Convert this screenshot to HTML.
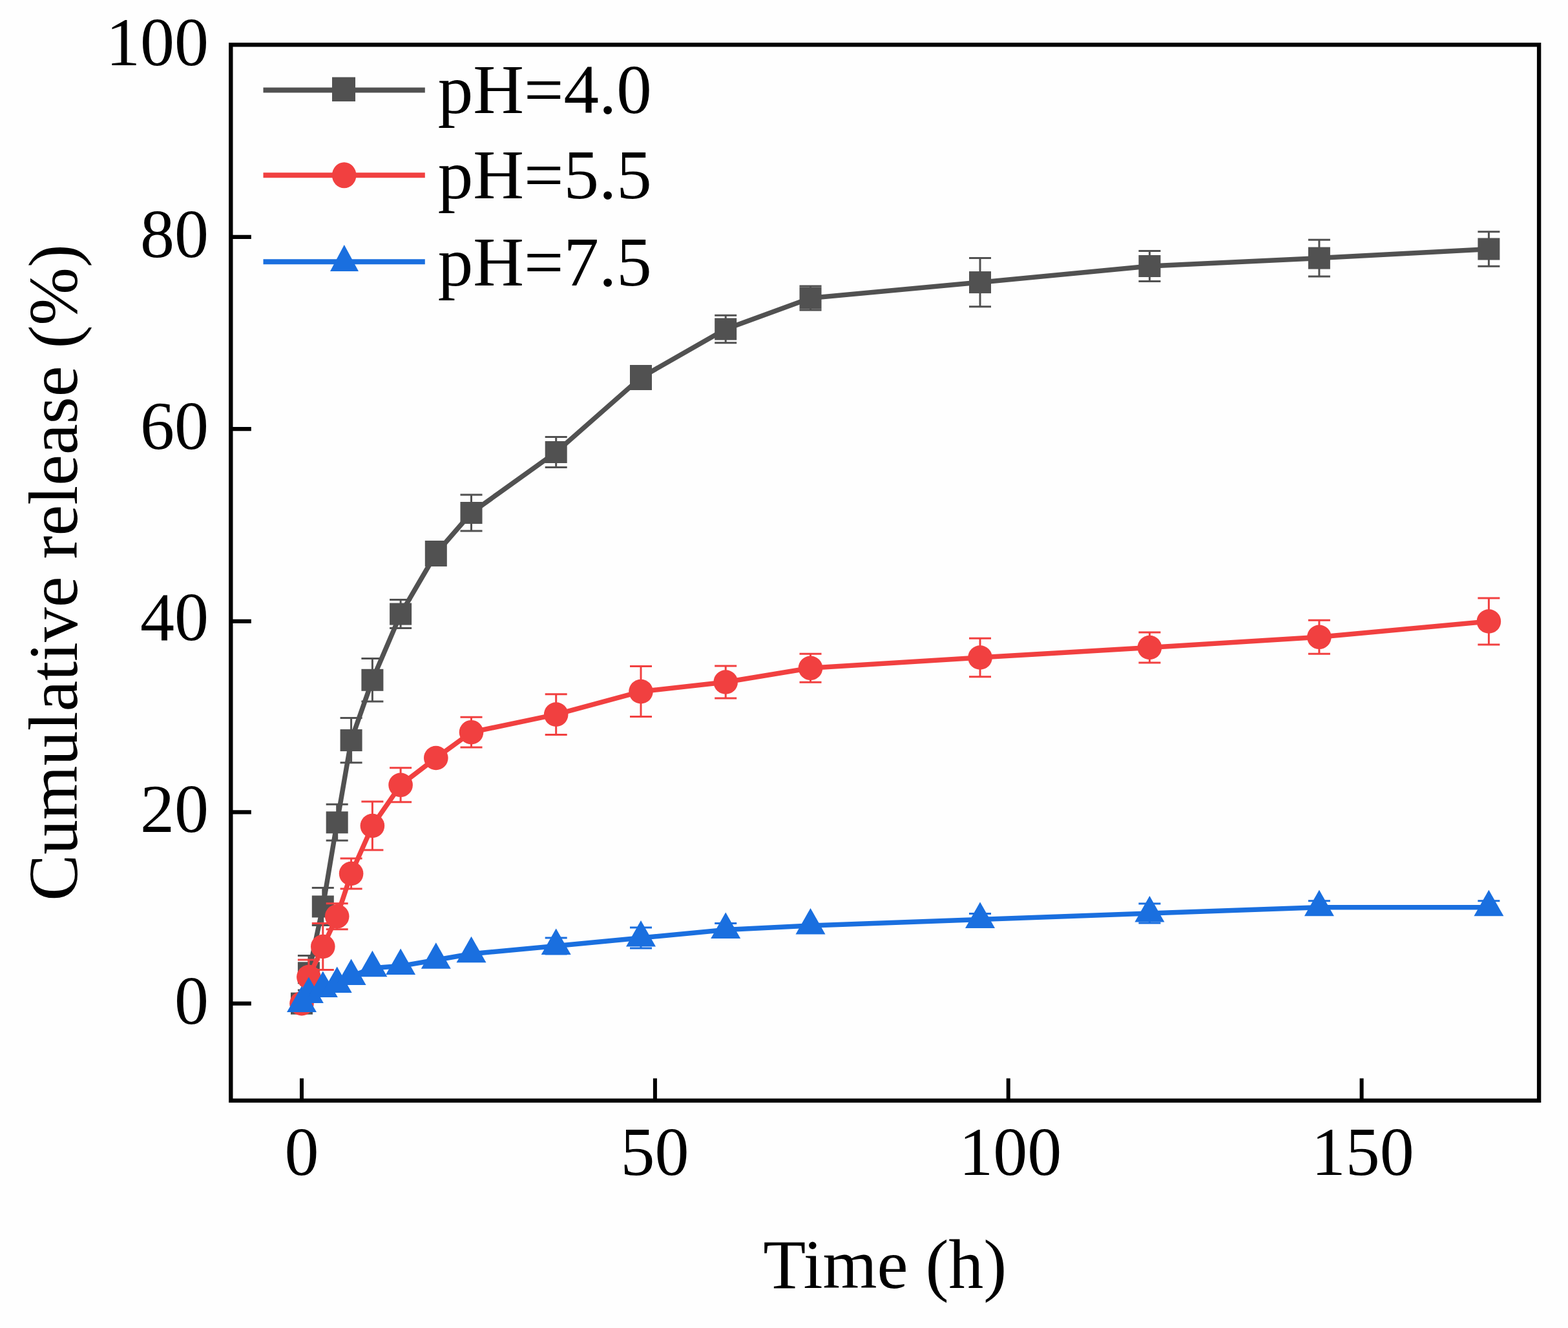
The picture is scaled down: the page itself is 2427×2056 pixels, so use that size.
<!DOCTYPE html>
<html><head><meta charset="utf-8"><title>Cumulative release</title>
<style>html,body{margin:0;padding:0;background:#fefefe;overflow:hidden;}svg{display:block;}</style>
</head><body>
<svg width="2427" height="2056" viewBox="0 0 2427 2056">
<rect width="2427" height="2056" fill="#fefefe"/>
<rect x="357.3" y="69.3" width="2024.8" height="1634.6" fill="none" stroke="#000" stroke-width="6.4"/>
<path d="M357.3,1553.6H388.8M357.3,1257.4H388.8M357.3,961.8H388.8M357.3,664.1H388.8M357.3,366.9H388.8" stroke="#000" stroke-width="6.2" fill="none"/>
<path d="M467.0,1703.9V1669.4M1013.9,1703.9V1669.4M1560.7,1703.9V1669.4M2107.6,1703.9V1669.4" stroke="#000" stroke-width="6" fill="none"/>
<polyline points="467.0,1553.6 477.9,1506.3 499.8,1403.5 521.7,1273.3 543.6,1146.1 576.4,1052.8 620.1,950.6 674.8,857.0 729.5,794.0 860.7,700.0 992.0,584.5 1123.2,509.5 1254.5,461.5 1517.0,437.1 1779.4,412.0 2041.9,399.6 2304.4,385.5" fill="none" stroke="#515151" stroke-width="7.5" stroke-linejoin="round"/>
<path d="M477.9,1479.5V1533.1M460.9,1479.5h34M460.9,1533.1h34M499.8,1374.5V1432.5M482.8,1374.5h34M482.8,1432.5h34M521.7,1245.3V1301.3M504.7,1245.3h34M504.7,1301.3h34M543.6,1111.5V1180.7M526.6,1111.5h34M526.6,1180.7h34M576.4,1019.6V1086.0M559.4,1019.6h34M559.4,1086.0h34M620.1,928.6V972.6M603.1,928.6h34M603.1,972.6h34M674.8,838.5V875.5M657.8,838.5h34M657.8,875.5h34M729.5,766.0V822.0M712.5,766.0h34M712.5,822.0h34M860.7,676.4V723.6M843.7,676.4h34M843.7,723.6h34M992.0,566.5V602.5M975.0,566.5h34M975.0,602.5h34M1123.2,488.2V530.8M1106.2,488.2h34M1106.2,530.8h34M1254.5,443.0V480.0M1237.5,443.0h34M1237.5,480.0h34M1517.0,399.5V474.7M1500.0,399.5h34M1500.0,474.7h34M1779.4,388.4V435.6M1762.4,388.4h34M1762.4,435.6h34M2041.9,371.3V427.9M2024.9,371.3h34M2024.9,427.9h34M2304.4,358.8V412.2M2287.4,358.8h34M2287.4,412.2h34" fill="none" stroke="#515151" stroke-width="3"/>
<rect x="450.0" y="1536.6" width="34" height="34" fill="#515151"/>
<rect x="460.9" y="1489.3" width="34" height="34" fill="#515151"/>
<rect x="482.8" y="1386.5" width="34" height="34" fill="#515151"/>
<rect x="504.7" y="1256.3" width="34" height="34" fill="#515151"/>
<rect x="526.6" y="1129.1" width="34" height="34" fill="#515151"/>
<rect x="559.4" y="1035.8" width="34" height="34" fill="#515151"/>
<rect x="603.1" y="933.6" width="34" height="34" fill="#515151"/>
<rect x="657.8" y="840.0" width="34" height="34" fill="#515151"/>
<rect x="712.5" y="777.0" width="34" height="34" fill="#515151"/>
<rect x="843.7" y="683.0" width="34" height="34" fill="#515151"/>
<rect x="975.0" y="567.5" width="34" height="34" fill="#515151"/>
<rect x="1106.2" y="492.5" width="34" height="34" fill="#515151"/>
<rect x="1237.5" y="444.5" width="34" height="34" fill="#515151"/>
<rect x="1500.0" y="420.1" width="34" height="34" fill="#515151"/>
<rect x="1762.4" y="395.0" width="34" height="34" fill="#515151"/>
<rect x="2024.9" y="382.6" width="34" height="34" fill="#515151"/>
<rect x="2287.4" y="368.5" width="34" height="34" fill="#515151"/>
<polyline points="467.0,1553.6 477.9,1512.6 499.8,1465.5 521.7,1418.8 543.6,1352.5 576.4,1278.5 620.1,1215.3 674.8,1173.5 729.5,1133.7 860.7,1106.1 992.0,1070.6 1123.2,1056.0 1254.5,1034.3 1517.0,1018.0 1779.4,1002.5 2041.9,986.3 2304.4,962.0" fill="none" stroke="#F14040" stroke-width="7.5" stroke-linejoin="round"/>
<path d="M477.9,1486.1V1539.1M460.9,1486.1h34M460.9,1539.1h34M499.8,1429.5V1501.5M482.8,1429.5h34M482.8,1501.5h34M521.7,1398.8V1438.8M504.7,1398.8h34M504.7,1438.8h34M543.6,1328.9V1376.1M526.6,1328.9h34M526.6,1376.1h34M576.4,1240.9V1316.1M559.4,1240.9h34M559.4,1316.1h34M620.1,1188.8V1241.8M603.1,1188.8h34M603.1,1241.8h34M729.5,1110.3V1157.1M712.5,1110.3h34M712.5,1157.1h34M860.7,1074.8V1137.4M843.7,1074.8h34M843.7,1137.4h34M992.0,1031.6V1109.6M975.0,1031.6h34M975.0,1109.6h34M1123.2,1031.0V1081.0M1106.2,1031.0h34M1106.2,1081.0h34M1254.5,1012.3V1056.3M1237.5,1012.3h34M1237.5,1056.3h34M1517.0,988.3V1047.7M1500.0,988.3h34M1500.0,1047.7h34M1779.4,979.0V1026.0M1762.4,979.0h34M1762.4,1026.0h34M2041.9,960.3V1012.3M2024.9,960.3h34M2024.9,1012.3h34M2304.4,926.0V998.0M2287.4,926.0h34M2287.4,998.0h34" fill="none" stroke="#F14040" stroke-width="3"/>
<circle cx="467.0" cy="1553.6" r="18.8" fill="#F14040"/>
<circle cx="477.9" cy="1512.6" r="18.8" fill="#F14040"/>
<circle cx="499.8" cy="1465.5" r="18.8" fill="#F14040"/>
<circle cx="521.7" cy="1418.8" r="18.8" fill="#F14040"/>
<circle cx="543.6" cy="1352.5" r="18.8" fill="#F14040"/>
<circle cx="576.4" cy="1278.5" r="18.8" fill="#F14040"/>
<circle cx="620.1" cy="1215.3" r="18.8" fill="#F14040"/>
<circle cx="674.8" cy="1173.5" r="18.8" fill="#F14040"/>
<circle cx="729.5" cy="1133.7" r="18.8" fill="#F14040"/>
<circle cx="860.7" cy="1106.1" r="18.8" fill="#F14040"/>
<circle cx="992.0" cy="1070.6" r="18.8" fill="#F14040"/>
<circle cx="1123.2" cy="1056.0" r="18.8" fill="#F14040"/>
<circle cx="1254.5" cy="1034.3" r="18.8" fill="#F14040"/>
<circle cx="1517.0" cy="1018.0" r="18.8" fill="#F14040"/>
<circle cx="1779.4" cy="1002.5" r="18.8" fill="#F14040"/>
<circle cx="2041.9" cy="986.3" r="18.8" fill="#F14040"/>
<circle cx="2304.4" cy="962.0" r="18.8" fill="#F14040"/>
<polyline points="467.0,1553.6 477.9,1539.4 499.8,1530.4 521.7,1523.5 543.6,1511.4 576.4,1498.7 620.1,1495.6 674.8,1486.2 729.5,1476.7 860.7,1464.5 992.0,1451.9 1123.2,1439.6 1254.5,1433.0 1517.0,1423.4 1779.4,1414.1 2041.9,1404.8 2304.4,1404.8" fill="none" stroke="#1A6FDF" stroke-width="7.5" stroke-linejoin="round"/>
<path d="M860.7,1451.9V1477.1M843.7,1451.9h34M843.7,1477.1h34M992.0,1435.9V1467.9M975.0,1435.9h34M975.0,1467.9h34M1123.2,1429.6V1449.6M1106.2,1429.6h34M1106.2,1449.6h34M1517.0,1414.4V1432.4M1500.0,1414.4h34M1500.0,1432.4h34M1779.4,1399.1V1429.1M1762.4,1399.1h34M1762.4,1429.1h34M2041.9,1394.8V1414.8M2024.9,1394.8h34M2024.9,1414.8h34M2304.4,1394.8V1414.8M2287.4,1394.8h34M2287.4,1414.8h34" fill="none" stroke="#1A6FDF" stroke-width="3"/>
<path d="M467.0,1526.6L490.0,1567.1H444.0Z" fill="#1A6FDF"/>
<path d="M477.9,1512.4L500.9,1552.9H454.9Z" fill="#1A6FDF"/>
<path d="M499.8,1503.4L522.8,1543.9H476.8Z" fill="#1A6FDF"/>
<path d="M521.7,1496.5L544.7,1537.0H498.7Z" fill="#1A6FDF"/>
<path d="M543.6,1484.4L566.6,1524.9H520.6Z" fill="#1A6FDF"/>
<path d="M576.4,1471.7L599.4,1512.2H553.4Z" fill="#1A6FDF"/>
<path d="M620.1,1468.6L643.1,1509.1H597.1Z" fill="#1A6FDF"/>
<path d="M674.8,1459.2L697.8,1499.7H651.8Z" fill="#1A6FDF"/>
<path d="M729.5,1449.7L752.5,1490.2H706.5Z" fill="#1A6FDF"/>
<path d="M860.7,1437.5L883.7,1478.0H837.7Z" fill="#1A6FDF"/>
<path d="M992.0,1424.9L1015.0,1465.4H969.0Z" fill="#1A6FDF"/>
<path d="M1123.2,1412.6L1146.2,1453.1H1100.2Z" fill="#1A6FDF"/>
<path d="M1254.5,1406.0L1277.5,1446.5H1231.5Z" fill="#1A6FDF"/>
<path d="M1517.0,1396.4L1540.0,1436.9H1494.0Z" fill="#1A6FDF"/>
<path d="M1779.4,1387.1L1802.4,1427.6H1756.4Z" fill="#1A6FDF"/>
<path d="M2041.9,1377.8L2064.9,1418.3H2018.9Z" fill="#1A6FDF"/>
<path d="M2304.4,1377.8L2327.4,1418.3H2281.4Z" fill="#1A6FDF"/>
<path d="M407.5,139.5H657.8" stroke="#515151" stroke-width="8"/>
<path d="M407.5,271.3H657.8" stroke="#F14040" stroke-width="8"/>
<path d="M407.5,405.3H657.8" stroke="#1A6FDF" stroke-width="8"/>
<rect x="514" y="119.5" width="36" height="37.5" fill="#515151"/>
<ellipse cx="532.7" cy="271.3" rx="18.8" ry="20" fill="#F14040"/>
<path d="M532.8,379L555,420H511Z" fill="#1A6FDF"/>
<g font-family="'Liberation Serif','Times New Roman',serif" font-size="106" fill="#000">
<text x="323" y="101.2" text-anchor="end">100</text>
<text x="323" y="397.9" text-anchor="end">80</text>
<text x="323" y="694.6" text-anchor="end">60</text>
<text x="323" y="991.2" text-anchor="end">40</text>
<text x="323" y="1287.9" text-anchor="end">20</text>
<text x="323" y="1584.6" text-anchor="end">0</text>
<text x="467.0" y="1818.5" text-anchor="middle">0</text>
<text x="1013.4" y="1818.5" text-anchor="middle">50</text>
<text x="1563.7" y="1818.5" text-anchor="middle">100</text>
<text x="2109.2" y="1818.5" text-anchor="middle">150</text>
<text x="677.7" y="175.3" font-size="109">pH=4.0</text>
<text x="677.7" y="307.3" font-size="109">pH=5.5</text>
<text x="677.7" y="441.6" font-size="109">pH=7.5</text>
<text x="1369.8" y="1994.4" text-anchor="middle" font-size="108">Time (h)</text>
<text transform="translate(118.7,886.5) rotate(-90)" text-anchor="middle" font-size="107.7">Cumulative release (%)</text>
</g>
</svg>
</body></html>
